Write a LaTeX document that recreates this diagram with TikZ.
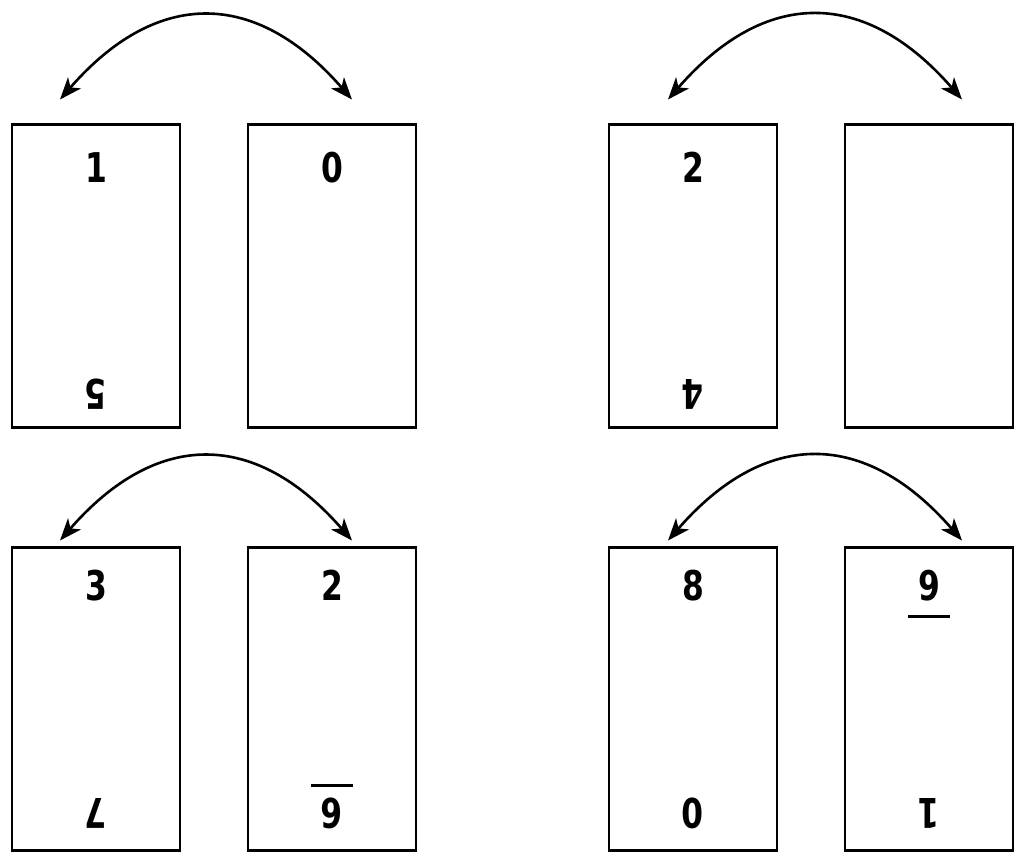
\documentclass[tikz,border=0pt]{standalone}
\usepackage{fontspec}
\newfontfamily\cardfont{DejaVu Sans Condensed Bold}[FakeStretch=0.85]
\usetikzlibrary{positioning,arrows.meta}

\begin{document}
\begin{tikzpicture}[x=1pt, y=1pt, node distance=68pt, >={Stealth[length=22pt,width=17pt,inset=6pt]},
  card/.style={rectangle, draw, line width=2.5pt, minimum width=168pt, minimum height=303pt, inner sep=0pt, outer sep=0pt},
  digit/.style={font=\cardfont\fontsize{41}{41}\selectfont, inner sep=0pt},
  flip/.style={<->, line width=2.6pt, bend left=49, looseness=1.29},
  bar/.style={line width=2.6pt}]
  \useasboundingbox (0,0) rectangle (1024,865);

  % Cards
  \node[card] (leftA) at (96,589) {};
  \node[card, right=of leftA] (rightA) {};
  \node[card, right=193pt of rightA] (leftB) {};
  \node[card, right=of leftB] (rightB) {};
  \node[card, below=120pt of leftA] (leftC) {};
  \node[card, right=of leftC] (rightC) {};
  \node[card, below=120pt of leftB] (leftD) {};
  \node[card, right=of leftD] (rightD) {};

  % Top numbers
  \node[digit] (topA) at ([yshift=-43pt]leftA.north) {1};
  \node[digit] (topA2) at ([yshift=-43pt]rightA.north) {0};
  \node[digit] (topB) at ([yshift=-43pt]leftB.north) {2};
  \node[digit] (topC) at ([yshift=-38pt]leftC.north) {3};
  \node[digit] (topC2) at ([yshift=-38pt]rightC.north) {2};
  \node[digit] (topD) at ([yshift=-38pt]leftD.north) {8};
  \node[digit] (topD2) at ([yshift=-38pt]rightD.north) {9};

  % Upside-down numbers
  \node[digit, rotate=180] (botA) at ([yshift=33pt]leftA.south) {5};
  \node[digit, rotate=180] (botB) at ([yshift=33pt]leftB.south) {4};
  \node[digit, rotate=180] (botC) at ([yshift=37pt]leftC.south) {7};
  \node[digit, rotate=180] (botC2) at ([yshift=37pt]rightC.south) {6};
  \node[digit, rotate=180] (botD) at ([yshift=37pt]leftD.south) {0};
  \node[digit, rotate=180] (botD2) at ([yshift=37pt]rightD.south) {1};

  % Bars under the 6 and the 9
  \draw[bar] ([xshift=-21pt,yshift=28pt]botC2.center) -- ++(42,0);
  \draw[bar] ([xshift=-21pt,yshift=-31pt]topD2.center) -- ++(42,0);

  % Arc ends
  \coordinate (fromA) at ([xshift=-36pt,yshift=25pt]leftA.north);
  \coordinate (toA) at ([xshift=20pt,yshift=25pt]rightA.north);
  \coordinate (fromB) at ([xshift=-25pt,yshift=25pt]leftB.north);
  \coordinate (toB) at ([xshift=33pt,yshift=25pt]rightB.north);
  \coordinate (fromC) at ([xshift=-36pt,yshift=7pt]leftC.north);
  \coordinate (toC) at ([xshift=20pt,yshift=7pt]rightC.north);
  \coordinate (fromD) at ([xshift=-25pt,yshift=7pt]leftD.north);
  \coordinate (toD) at ([xshift=33pt,yshift=7pt]rightD.north);

  % Arrows
  \draw[flip] (fromA) to (toA);
  \draw[flip] (fromB) to (toB);
  \draw[flip] (fromC) to (toC);
  \draw[flip] (fromD) to (toD);
\end{tikzpicture}
\end{document}
